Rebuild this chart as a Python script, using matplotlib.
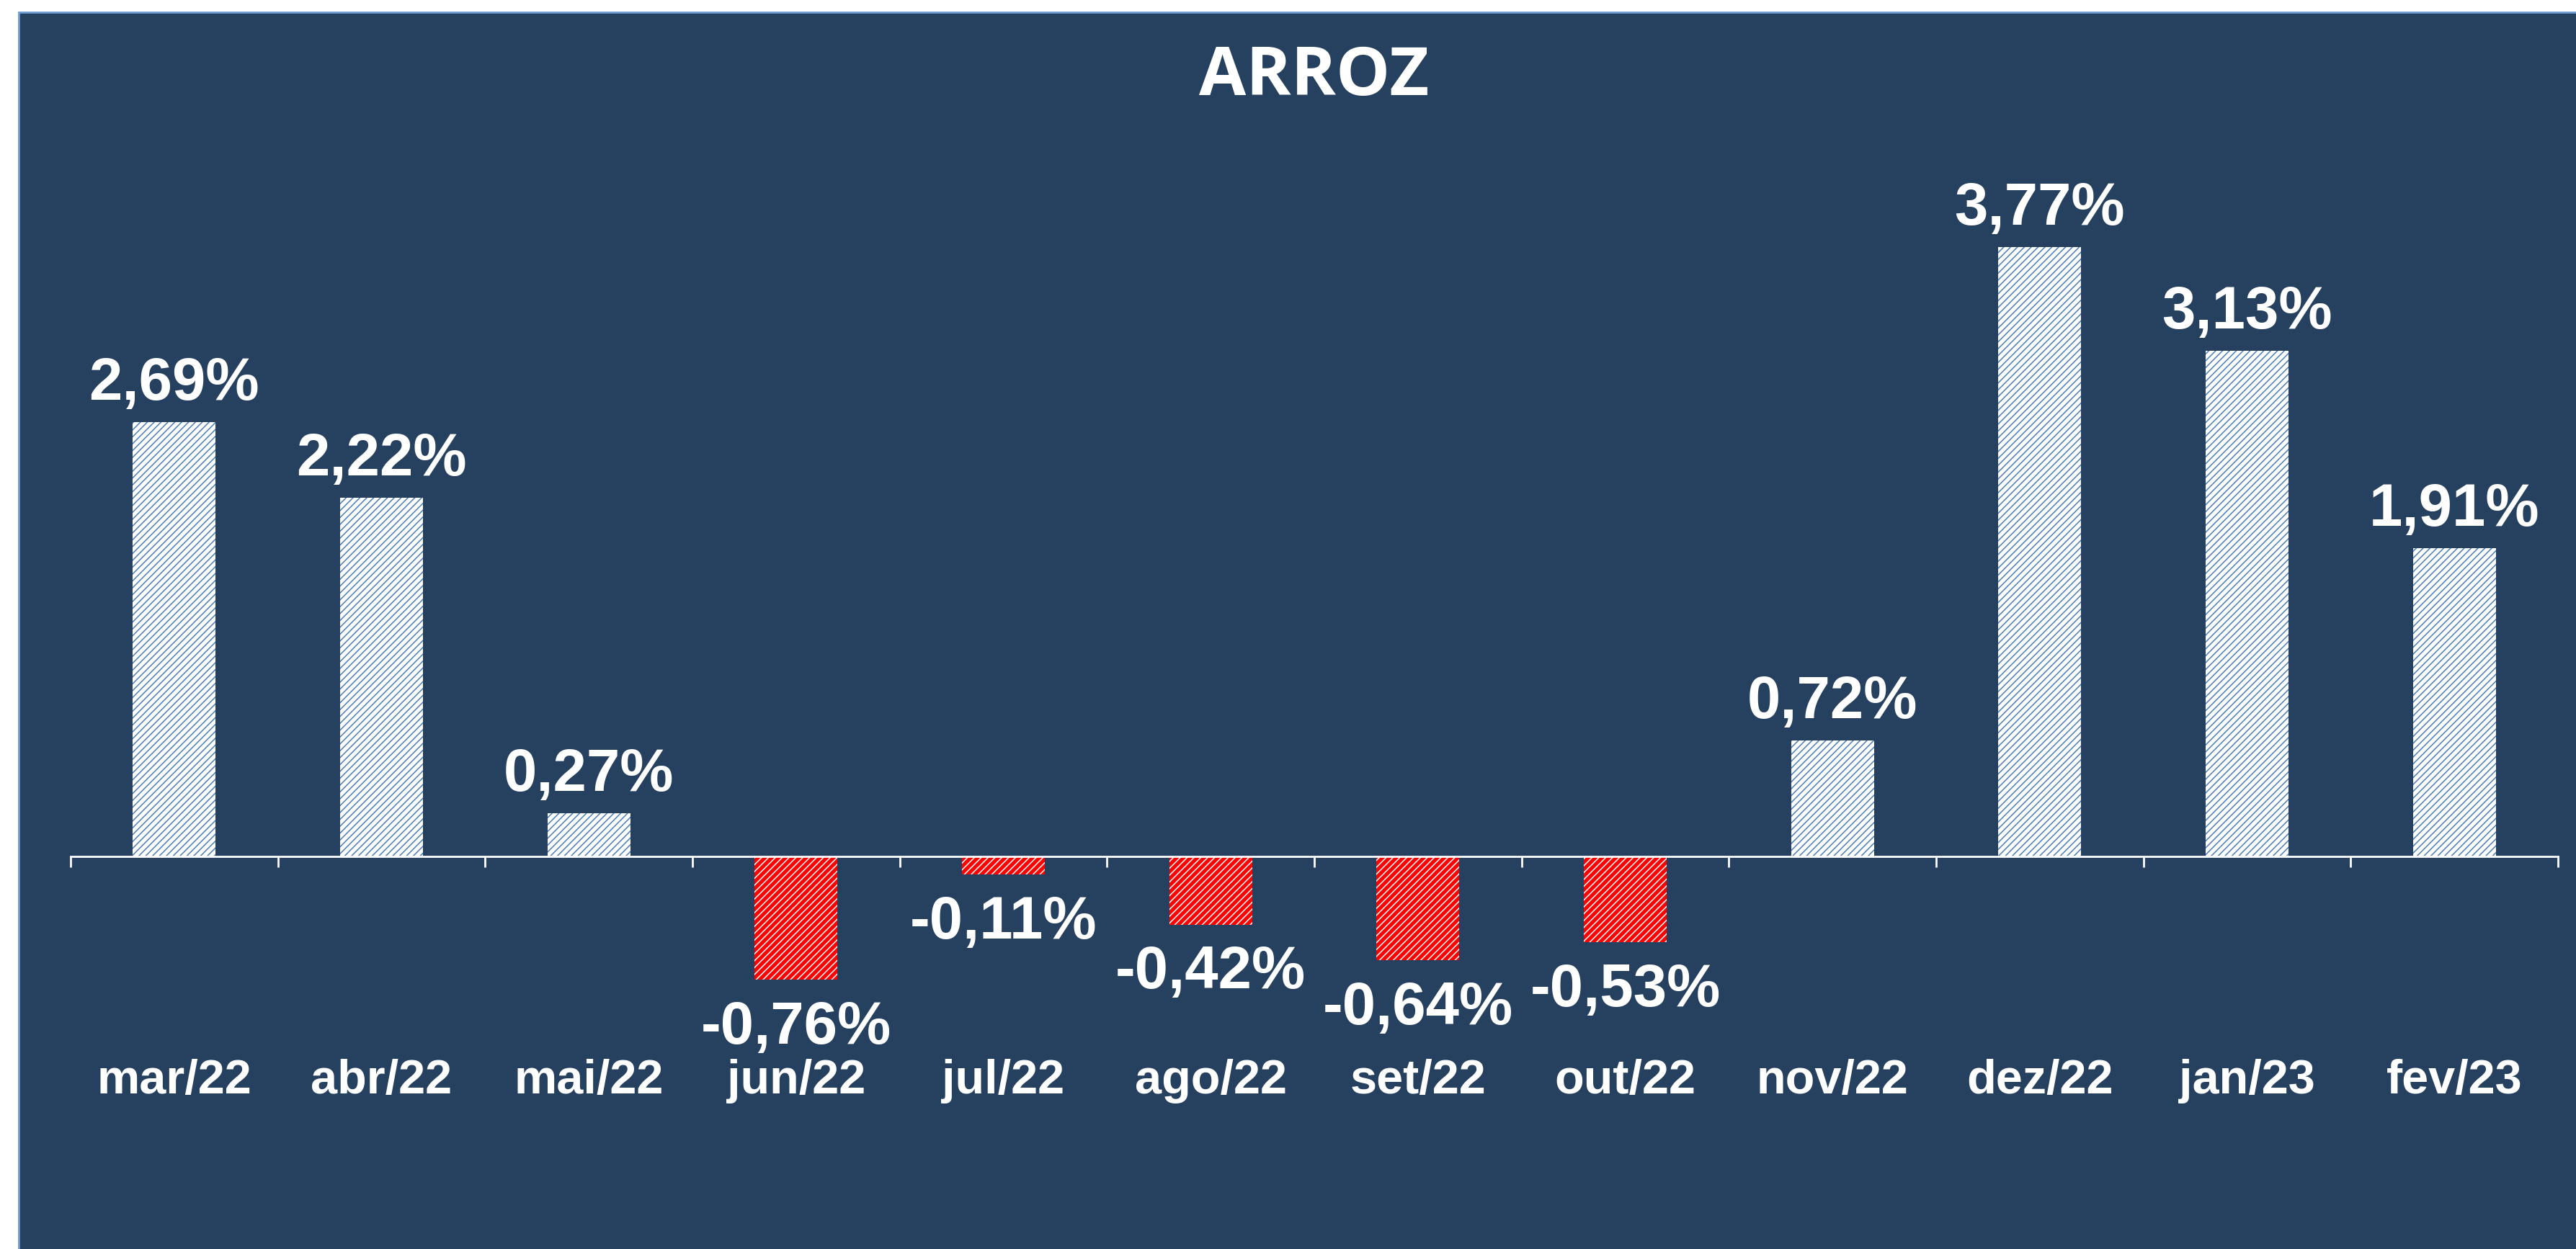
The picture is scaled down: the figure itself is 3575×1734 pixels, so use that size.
import matplotlib
matplotlib.use("Agg")
import matplotlib.pyplot as plt
from matplotlib.patches import Rectangle

# ---- data -------------------------------------------------------------------
meses = ["mar/22", "abr/22", "mai/22", "jun/22", "jul/22", "ago/22",
         "set/22", "out/22", "nov/22", "dez/22", "jan/23", "fev/23"]
variacao = [2.69, 2.22, 0.27, -0.76, -0.11, -0.42,
            -0.64, -0.53, 0.72, 3.77, 3.13, 1.91]
titulo = "ARROZ"

NAVY = "#264060"
BLUE = "#4a7ebb"
RED = "#ff0000"

plt.rcParams["hatch.linewidth"] = 0.55

fig = plt.figure(figsize=(17.875, 8.67), dpi=200, facecolor="white")
# fundo azul-escuro com borda clara
fig.patches.append(Rectangle((0.0073, -0.01), 1.0, 1.0, transform=fig.transFigure,
                             facecolor=NAVY, edgecolor="#6d9bd3", lw=1.0, zorder=-10))

ax = fig.add_axes([0.0274, 0.1199, 0.9656, 0.7767])
ax.set_facecolor("none")

x = list(range(len(meses)))
for i, v in enumerate(variacao):
    pos = v >= 0
    # positivos: fundo branco, hachura azul; negativos: vermelho com hachura branca
    face, hcor = ("white", BLUE) if pos else (RED, "white")
    ax.bar(i, v, width=0.4, color=face, edgecolor=hcor,
           hatch="///////", lw=0, zorder=2)
    lbl = f"{v:.2f}".replace(".", ",") + "%"
    ax.annotate(lbl, (i, v), xytext=(0, 19 if pos else -24),
                textcoords="offset points", ha="center", va="center",
                color="white", fontsize=30, fontweight="bold",
                family="Liberation Sans")

ax.set_xlim(-0.5, len(meses) - 0.5)
ax.set_ylim(-1.5, 4.5)
for s in ["top", "right", "left"]:
    ax.spines[s].set_visible(False)
ax.spines["bottom"].set_position(("data", 0))
ax.spines["bottom"].set_color("white")
ax.spines["bottom"].set_linewidth(1.0)
ax.spines["bottom"].set_zorder(3)
ax.set_yticks([])

ax.set_xticks(x)
ax.set_xticklabels(meses, fontsize=24, fontweight="bold", color="white",
                   family="Liberation Sans")
ax.tick_params(axis="x", which="major", length=0, pad=101)
ax.set_xticks([i - 0.5 for i in range(len(meses) + 1)], minor=True)
ax.tick_params(axis="x", which="minor", length=5.5, width=1.0,
               color="white", direction="out")

fig.text(0.51, 0.938, titulo, ha="center", va="center", color="white",
         fontsize=34, fontweight="bold", family="Open Sans")

fig.savefig("out.png", dpi=200, facecolor="white")
